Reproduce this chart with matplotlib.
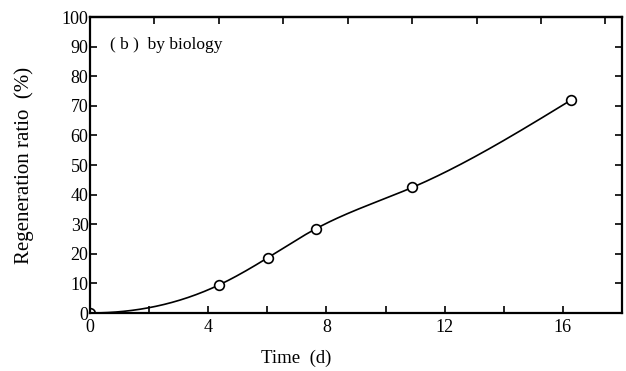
import numpy as np
import matplotlib
matplotlib.use("Agg")
import matplotlib.pyplot as plt

# values (markers sit slightly right of the bottom ticks)
time_d = [0.0, 4.37, 6.02, 7.65, 10.9, 16.27]
regen_pct = [0.0, 9.5, 18.7, 28.5, 42.4, 71.9]

x_major = [0, 4, 8, 12, 16]
x_minor = [2, 6, 10, 14]
y_ticks = list(range(0, 101, 10))
top_ticks = [2, 4, 6, 8, 10, 12, 14, 16]
top_scale = 1.09


def smooth_curve(x, y, xs, start_slope=0.0):
    """Cubic spline through the points: given slope at the start, natural at the end."""
    x = np.asarray(x, float)
    y = np.asarray(y, float)
    n = len(x)
    h = np.diff(x)
    A = np.zeros((n, n))
    b = np.zeros(n)
    # clamped start
    A[0, 0] = 2 * h[0]
    A[0, 1] = h[0]
    b[0] = 6 * ((y[1] - y[0]) / h[0] - start_slope)
    for i in range(1, n - 1):
        A[i, i - 1] = h[i - 1]
        A[i, i] = 2 * (h[i - 1] + h[i])
        A[i, i + 1] = h[i]
        b[i] = 6 * ((y[i + 1] - y[i]) / h[i] - (y[i] - y[i - 1]) / h[i - 1])
    # natural end
    A[-1, -1] = 1.0
    m = np.linalg.solve(A, b)
    idx = np.clip(np.searchsorted(x, xs) - 1, 0, n - 2)
    x0, x1 = x[idx], x[idx + 1]
    hh = h[idx]
    return (m[idx] * (x1 - xs) ** 3 / (6 * hh) + m[idx + 1] * (xs - x0) ** 3 / (6 * hh)
            + (y[idx] / hh - m[idx] * hh / 6) * (x1 - xs)
            + (y[idx + 1] / hh - m[idx + 1] * hh / 6) * (xs - x0))


plt.rcParams["font.family"] = ["Liberation Serif", "DejaVu Serif"]

fig = plt.figure(figsize=(6.26, 3.71), dpi=100)
ax = fig.add_axes([90 / 626, 58 / 371, 532 / 626, 296 / 371])

xs = np.linspace(time_d[0], time_d[-1], 300)
ax.plot(xs, smooth_curve(time_d, regen_pct, xs), color="black", linewidth=1.2)
ax.plot(time_d, regen_pct, linestyle="none", marker="o", markersize=7,
        markerfacecolor="white", markeredgecolor="black", markeredgewidth=1.2)

ax.set_xlim(0, 18)
ax.set_ylim(0, 100)
ax.set_xticks(x_major)
ax.set_xticks(x_minor, minor=True)
ax.set_yticks(y_ticks)
ax.tick_params(axis="both", which="both", direction="in", labelsize=13, width=1.2)
ax.tick_params(axis="x", which="major", length=5, pad=4)
ax.tick_params(axis="x", which="minor", length=5)
ax.tick_params(axis="y", length=5, pad=1, right=True)

top = ax.secondary_xaxis("top", functions=(lambda v: v / top_scale, lambda v: v * top_scale))
top.set_xticks(top_ticks)
top.tick_params(direction="in", length=5, width=1.2, labeltop=False)
top.spines["top"].set_linewidth(1.6)

for sp in ax.spines.values():
    sp.set_linewidth(1.6)

ax.set_xlabel("Time  (d)", fontsize=13.5)
ax.xaxis.set_label_coords(0.387, -0.125)
ax.set_ylabel("Regeneration ratio  (%)", fontsize=15)
ax.yaxis.set_label_coords(-0.105, 0.5)
ax.text(0.038, 0.905, "( b )  by biology", transform=ax.transAxes,
        fontsize=12.5, va="center", ha="left")

fig.savefig("out.png", dpi=100)
